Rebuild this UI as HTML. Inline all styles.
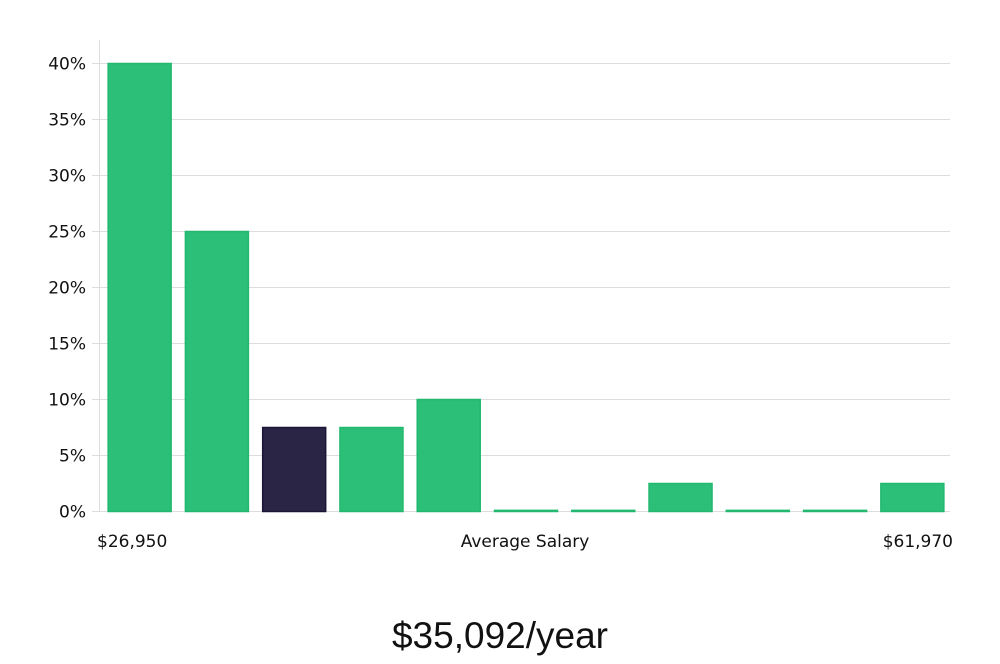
<!DOCTYPE html>
<html><head><meta charset="utf-8"><style>
body{margin:0;background:#fff;width:1000px;height:660px;overflow:hidden;font-family:"DejaVu Sans","Liberation Sans",sans-serif}
svg text{font-family:"DejaVu Sans","Liberation Sans",sans-serif;fill:#111}
</style></head><body>
<svg id="chart" width="1000" height="660" xmlns="http://www.w3.org/2000/svg">
<g id="grid"></g>
<g id="yticks"></g>
<line x1="99.5" y1="40" x2="99.5" y2="512" stroke="#ddd"/>
<g id="bars"></g>
<text x="97" y="547" font-size="17">$26,950</text>
<text x="525" y="547" font-size="17" text-anchor="middle">Average Salary</text>
<text x="953" y="547" font-size="17" text-anchor="end">$61,970</text>
<text x="500" y="648" font-size="37" text-anchor="middle" style="font-family:'Liberation Sans',sans-serif;font-weight:300">$35,092/year</text>
</svg>
<script>
const values=[40,25,7.5,7.5,10,0.1,0.1,2.5,0.1,0.1,2.5];
const highlight=[false,false,true,false,false,false,false,false,false,false,false];
const yTicks=[0,5,10,15,20,25,30,35,40];
const yTickLabels=["0%","5%","10%","15%","20%","25%","30%","35%","40%"];
const NS="http://www.w3.org/2000/svg";
const x0=100,x1=950,y0=511.5,yMax=40,pxTop=63.5;
const y=v=>y0-(v/yMax)*(y0-pxTop);
const bw=(x1-x0)/values.length;
const grid=document.getElementById('grid'),yt=document.getElementById('yticks'),bars=document.getElementById('bars');
yTicks.forEach((t,i)=>{
 const l=document.createElementNS(NS,'line');
 
 
 l.setAttribute('x1',92);l.setAttribute('x2',x1);l.setAttribute('y1',y(t));l.setAttribute('y2',y(t));
 l.setAttribute('stroke','#ddd');grid.appendChild(l);
 const tx=document.createElementNS(NS,'text');
 
 
 tx.setAttribute('x',86);tx.setAttribute('y',y(t)+6);tx.setAttribute('text-anchor','end');tx.setAttribute('font-size','17');
 tx.textContent=yTickLabels[i];yt.appendChild(tx);
});
values.forEach((v,i)=>{
 const r=document.createElementNS(NS,'rect');
 
 
 const w=63,x=x0+i*bw+(bw-w)/2+1;
 r.setAttribute('x',x);r.setAttribute('width',w);
 r.setAttribute('y',y(v));r.setAttribute('height',Math.max(1,y0-y(v)));
 r.setAttribute('fill',highlight[i]?'#2a2545':'#2bbf77');
 r.setAttribute('stroke',highlight[i]?'#1a1638':'#22b870');r.setAttribute('stroke-width','1.5');
 bars.appendChild(r);
});
</script>
</body></html>
